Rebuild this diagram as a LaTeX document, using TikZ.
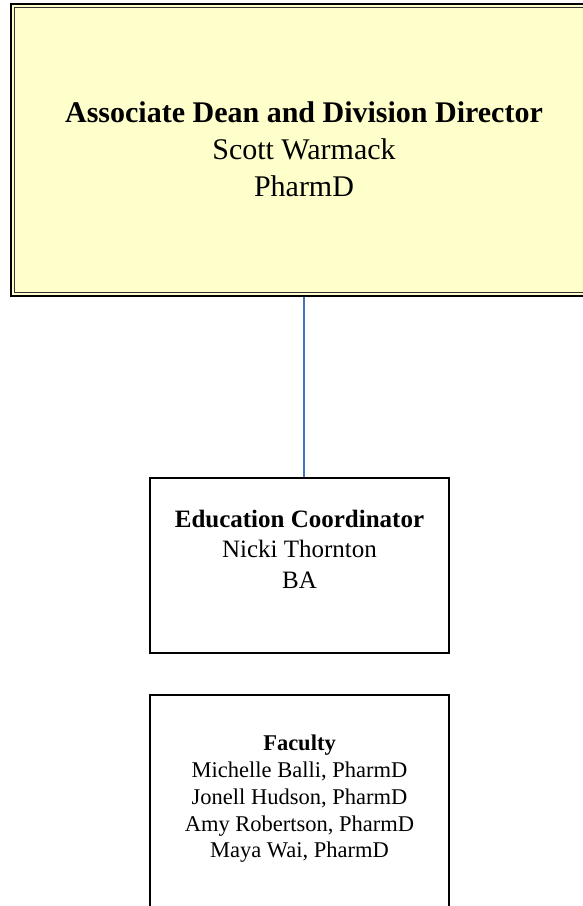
\documentclass[tikz,border=0pt]{standalone}
\usepackage{fontspec}
\setmainfont{Liberation Serif}
\definecolor{deanfill}{HTML}{FFFFCC}
\definecolor{linkblue}{HTML}{4472C4}
\begin{document}
\begin{tikzpicture}[x=1pt,y=-1pt,
  box/.style={draw=black, line width=1.5pt, inner sep=0pt, minimum width=299pt},
  txt/.style={align=center, inner sep=0pt},
  link/.style={draw=linkblue, line width=1.4pt}]
\useasboundingbox (0,0) rectangle (582,906);
% top box (double border)
\node[draw=black, line width=2pt, fill=deanfill, inner sep=0pt,
      minimum width=586pt, minimum height=292pt,
      font=\fontsize{30}{37}\selectfont, align=center] (dean) at (304,149.5)
  {\textbf{Associate Dean and Division Director}\\Scott Warmack\\PharmD};
\draw[line width=1pt, draw=black!80] ([shift={(4.5pt,-4.5pt)}]dean.north west)
  rectangle ([shift={(-4.5pt,4.5pt)}]dean.south east);
% education coordinator
\node[box, minimum height=175pt] (edu) at (299.5,565.5) {};
\node[txt, font=\fontsize{25}{30.5}\selectfont] (edutext) at (299.5,549)
  {\textbf{Education Coordinator}\\Nicki Thornton\\BA};
% faculty
\node[box, minimum height=235pt] (fac) at (299.5,812.5) {};
\node[txt, font=\fontsize{22.5}{26.8}\selectfont] (factext) at (299.5,799)
  {\textbf{Faculty}\\Michelle Balli, PharmD\\Jonell Hudson, PharmD\\Amy Robertson, PharmD\\Maya Wai, PharmD};
% connector
\draw[link] (dean.south) -- (dean.south |- edu.north);
\end{tikzpicture}
\end{document}
